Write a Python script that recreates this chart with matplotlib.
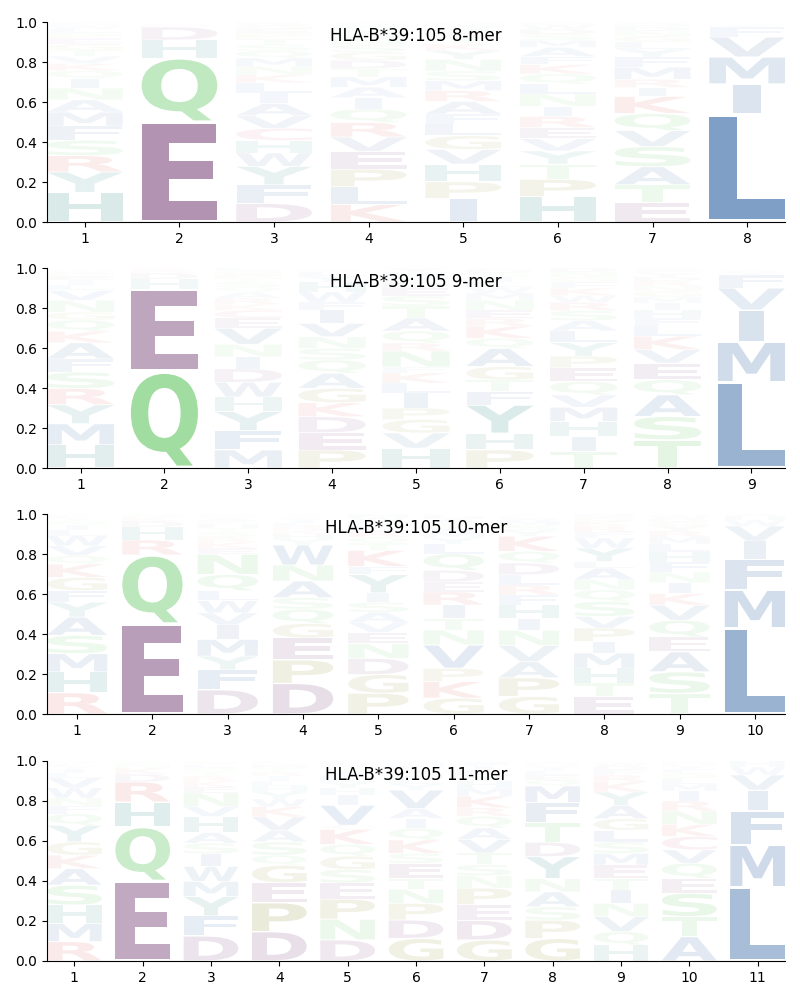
import matplotlib
matplotlib.use('Agg')
import matplotlib.pyplot as plt
from matplotlib.textpath import TextPath
from matplotlib.patches import PathPatch
from matplotlib.font_manager import FontProperties
from matplotlib.transforms import Affine2D
import numpy as np

# ---------------- data (letters listed bottom -> top per position) ----------------
titles = ["HLA-B*39:105 8-mer", "HLA-B*39:105 9-mer", "HLA-B*39:105 10-mer", "HLA-B*39:105 11-mer"]

letters_8 = ["HYRSFMANIQKVTGEPLWDC", "EQHDRKNS", "DFYWHCVAILKNMQSTPEGR", "KLPEVRQIAMTDGSNWYFHC",
             "IPHVGLFARMSNYKTEDWQ", "HPTYVERINLQKFAMSDWG", "ETASVQKIRMFYLGNDHW", "LIMVFYAT"]
freqs_8 = [
    [.145, .10, .08, .075, .07, .068, .06, .058, .045, .04, .035, .035, .03, .03, .028, .025, .02, .015, .01, .01],
    [.50, .32, .09, .065, .01, .006, .005, .004],
    [.09, .09, .09, .065, .06, .06, .06, .06, .05, .05, .04, .04, .04, .035, .03, .03, .025, .02, .02, .015],
    [.085, .085, .085, .085, .07, .07, .065, .055, .05, .05, .04, .04, .04, .035, .03, .025, .02, .015, .01, .01],
    [.12, .085, .09, .075, .07, .06, .05, .065, .055, .05, .05, .06, .045, .035, .03, .025, .02, .02, .015],
    [.125, .085, .075, .065, .06, .055, .055, .05, .06, .05, .05, .045, .04, .045, .035, .03, .025, .02, .015],
    [.095, .09, .09, .10, .08, .085, .085, .045, .04, .06, .05, .04, .035, .03, .025, .02, .015, .01],
    [.54, .15, .135, .10, .05, .01, .008, .007],
]

letters_9 = ["HMYRSFAKQGNVLIEPWTD", "QEHDRK", "MFYHWDINVECKRAQSTPGL", "PEDKGAQSNVIFWHYLRTM",
             "HVGPILKFNRQATSEDMWY", "PHYFTGAQKRENMWLISDC", "TIHMVQEPYLASRWKFGND", "TSAQEVKLFHIMGNRDYPW",
             "LMIVFYAT"]
freqs_9 = [
    [.118, .108, .097, .083, .083, .067, .083, .058, .058, .04, .06, .05, .03, .025, .02, .015, .01, .01, .005],
    [.48, .41, .05, .03, .015, .01],
    [.09, .097, .095, .072, .073, .067, .06, .062, .08, .05, .04, .03, .03, .03, .025, .025, .02, .02, .015, .015],
    [.09, .087, .08, .07, .072, .075, .067, .058, .058, .067, .067, .04, .05, .05, .03, .02, .01, .005, .005],
    [.10, .075, .067, .058, .075, .05, .05, .03, .08, .04, .06, .065, .06, .05, .04, .03, .025, .025, .02],
    [.09, .083, .14, .067, .058, .067, .09, .05, .06, .04, .04, .05, .035, .03, .025, .025, .02, .015, .01],
    [.08, .075, .075, .07, .06, .067, .067, .058, .067, .058, .05, .05, .04, .035, .035, .03, .025, .025, .02],
    [.14, .117, .108, .075, .083, .067, .067, .05, .04, .04, .035, .03, .03, .025, .025, .02, .02, .015, .01],
    [.43, .20, .16, .11, .065, .015, .01, .01],
]

letters_10 = ["RHMSAYFGKQVWLINTEDP", "EQRHDKN", "DFYMIVWLQNEKRSTHPAGC", "DPEGQSANWYHKRLIVTMF",
              "PGDNEVASIYFKTQRLMWH", "GKPVNTIREDQLYMWSAHF", "GPAVNIHFRLDQKYSMWET", "ETHMIPVSQNALYWFRKGD",
              "TSAEQVKINFHLMRYGDWP", "LMFIVWHA"]
freqs_10 = [
    [.107, .105, .092, .092, .092, .075, .058, .067, .067, .042, .05, .05, .03, .025, .02, .015, .01, .005, .005],
    [.45, .345, .075, .065, .03, .02, .015],
    [.12, .10, .067, .083, .072, .06, .06, .05, .08, .10, .03, .03, .025, .025, .02, .02, .015, .015, .01, .01],
    [.153, .117, .11, .072, .072, .057, .083, .08, .10, .03, .025, .02, .02, .015, .015, .01, .01, .005, .005],
    [.103, .092, .08, .073, .055, .05, .05, .05, .046, .09, .04, .08, .035, .03, .03, .025, .025, .02, .015],
    [.08, .083, .067, .117, .075, .058, .067, .067, .05, .058, .083, .05, .03, .03, .025, .02, .02, .015, .01],
    [.087, .092, .08, .08, .075, .058, .067, .05, .05, .05, .058, .058, .075, .03, .025, .02, .015, .01, .01],
    [.087, .067, .075, .075, .058, .067, .058, .075, .058, .05, .058, .033, .067, .05, .03, .03, .025, .02, .015],
    [.103, .108, .10, .075, .083, .075, .058, .055, .053, .05, .05, .04, .035, .03, .025, .02, .015, .015, .01],
    [.43, .19, .155, .09, .075, .03, .02, .01],
]

letters_11 = ["RMHSAKGYQFNWVLITEDPC", "EQHRDKNS", "DFYMWISAHVNEKRTQLPG", "DPEGQSAVKWYHLIRTMNF",
              "DNPESGQKCVIHYLATRWF", "GDPNTESKQIAVYLHRFMW", "GDEPNSTVAQRKMHYLIFW", "GPSANYDTFMQELIVHKRW",
              "HQVNITEMSLGAYKRFDWP", "ATSEQVCKNRIMLGFYHDW", "LMFIVWH"]
freqs_11 = [
    [.097, .092, .092, .10, .083, .067, .067, .083, .058, .04, .04, .05, .05, .025, .02, .015, .01, .005, .005, .005],
    [.40, .27, .125, .10, .04, .03, .02, .015],
    [.125, .10, .097, .075, .075, .063, .053, .053, .08, .05, .067, .03, .03, .025, .02, .02, .015, .01, .01],
    [.147, .145, .10, .088, .05, .067, .058, .067, .05, .04, .035, .03, .025, .025, .02, .02, .015, .01, .01],
    [.105, .103, .10, .08, .067, .067, .058, .075, .02, .10, .05, .035, .03, .025, .025, .02, .015, .01, .01],
    [.113, .092, .083, .07, .055, .075, .05, .067, .058, .05, .05, .092, .03, .025, .025, .02, .02, .015, .01],
    [.105, .097, .078, .083, .062, .055, .058, .067, .058, .058, .042, .058, .04, .035, .03, .025, .02, .015, .01],
    [.113, .092, .067, .075, .067, .11, .072, .10, .10, .083, .03, .025, .02, .015, .01, .01, .005, .005, .005],
    [.08, .067, .075, .067, .067, .058, .067, .058, .058, .058, .058, .067, .067, .05, .035, .025, .02, .015, .01],
    [.122, .10, .117, .075, .075, .067, .067, .06, .067, .05, .05, .035, .03, .025, .02, .015, .01, .01, .005],
    [.37, .21, .17, .105, .075, .04, .03],
]

panels = [(letters_8, freqs_8), (letters_9, freqs_9), (letters_10, freqs_10), (letters_11, freqs_11)]

# residue base colours (drawn with opacity = frequency)
base_colors = {}
for c in "AVLIMFW":
    base_colors[c] = (20, 78, 149)
for c in "STNQ":
    base_colors[c] = (60, 185, 60)
for c in "DE":
    base_colors[c] = (100, 40, 100)
for c in "KR":
    base_colors[c] = (215, 40, 40)
for c in "HY":
    base_colors[c] = (0, 110, 105)
for c in "PG":
    base_colors[c] = (120, 120, 10)
base_colors["C"] = (200, 40, 110)

# ---------------- drawing ----------------
fp = FontProperties(family='DejaVu Sans', weight='bold')
_cache = {}


def glyph(ch):
    if ch not in _cache:
        _cache[ch] = TextPath((0, 0), ch, size=1, prop=fp)
    return _cache[ch]


E_WIDTH = glyph('E').get_extents().width


def draw_letter(ax, ch, x, y0, h, w, color):
    path = glyph(ch)
    ext = path.get_extents()
    sx = min(w / ext.width, w / E_WIDTH)
    sy = h / ext.height
    gw = ext.width * sx
    t = Affine2D().translate(-ext.x0, -ext.y0).scale(sx, sy).translate(x - gw / 2, y0)
    ax.add_patch(PathPatch(t.transform_path(path), facecolor=color, edgecolor='none', lw=0))


fig = plt.figure(figsize=(8, 10), dpi=100)
bottoms = [0.778, 0.532, 0.286, 0.039]
width = 0.8
vpad = 0.05

for (letters, freqs), title, b in zip(panels, titles, bottoms):
    ax = fig.add_axes([0.05875, b, 0.9225, 0.2])
    n = len(letters)
    for i in range(n):
        f = np.array(freqs[i], dtype=float)
        f = f / f.sum()
        y = 0.0
        for ch, v in zip(letters[i], f):
            a = min(1.0, v)
            base = np.array(base_colors[ch]) / 255.0
            col = 1 - a * (1 - base)
            draw_letter(ax, ch, i + 1, y + v * vpad / 2, v * (1 - vpad), width, col)
            y += v
    ax.set_xlim(0.6, n + 0.4)
    ax.set_ylim(0, 1)
    ax.set_xticks(range(1, n + 1))
    ax.set_xticklabels([str(k) for k in range(1, n + 1)])
    ax.set_yticks([0, 0.2, 0.4, 0.6, 0.8, 1.0])
    ax.spines['top'].set_visible(False)
    ax.spines['right'].set_visible(False)
    ax.text(0.5, 0.93, title, transform=ax.transAxes, ha='center', va='center', fontsize=12)

fig.savefig('out.png', dpi=100)
